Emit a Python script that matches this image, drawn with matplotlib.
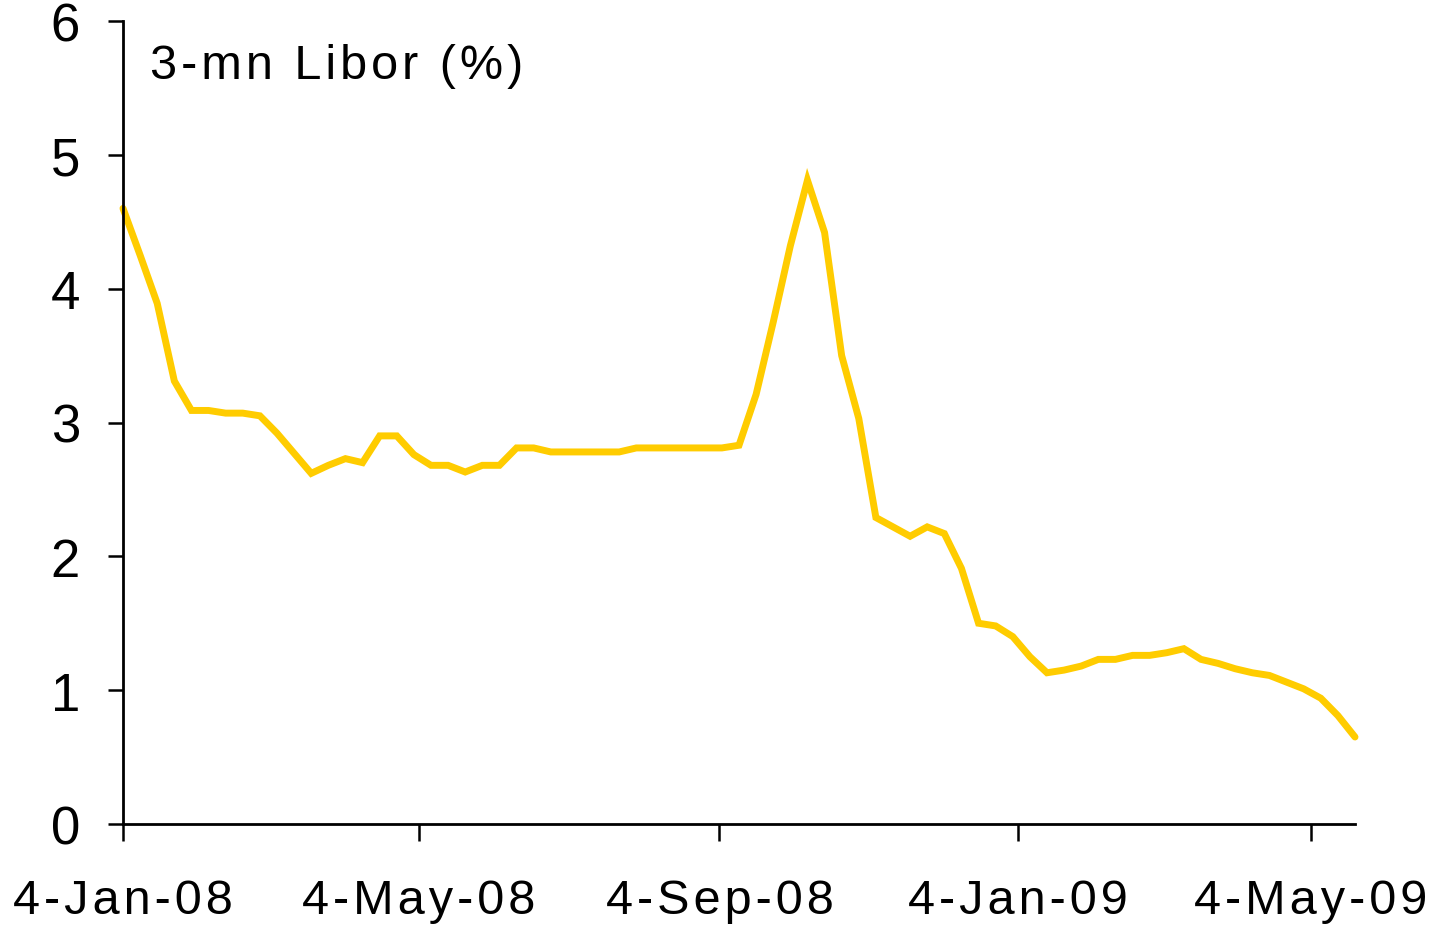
import matplotlib
matplotlib.use("Agg")
import matplotlib.pyplot as plt
import pandas as pd

# ---- data (weekly 3-month Libor, %) ----
start_date = "2008-01-04"
libor = [4.60, 4.25, 3.89, 3.31, 3.09, 3.09, 3.07, 3.07, 3.05, 2.92,
         2.77, 2.62, 2.68, 2.73, 2.70, 2.90, 2.90, 2.76, 2.68, 2.68,
         2.63, 2.68, 2.68, 2.81, 2.81, 2.78, 2.78, 2.78, 2.78, 2.78,
         2.81, 2.81, 2.81, 2.81, 2.81, 2.81, 2.83, 3.21, 3.75, 4.32,
         4.81, 4.42, 3.50, 3.03, 2.29, 2.22, 2.15, 2.22, 2.17, 1.91,
         1.50, 1.48, 1.40, 1.25, 1.13, 1.15, 1.18, 1.23, 1.23, 1.26,
         1.26, 1.28, 1.31, 1.23, 1.20, 1.16, 1.13, 1.11, 1.06, 1.01,
         0.94, 0.81, 0.65]
dates = pd.date_range(start_date, periods=len(libor), freq="7D")

xtick_dates = ["2008-01-04", "2008-05-04", "2008-09-04", "2009-01-04", "2009-05-04"]
xtick_labels = ["4-Jan-08", "4-May-08", "4-Sep-08", "4-Jan-09", "4-May-09"]
ytick_vals = [0, 1, 2, 3, 4, 5, 6]
title = "3-mn Libor (%)"

HS = "\u200a"  # hair space used to mimic the wide letter spacing


def spaced(s):
    return HS.join(list(s))


fam = ["Liberation Sans", "DejaVu Sans"]
plt.rcParams["font.family"] = fam

W, H = 1437, 928
fig = plt.figure(figsize=(W / 100, H / 100), dpi=100)
ax = fig.add_axes([123 / W, (H - 825) / H, (1355 - 123) / W, (825 - 22) / H])

ax.plot(dates, libor, color="#FFCC00", lw=5.0, solid_joinstyle="miter",
        solid_capstyle="round", clip_on=False, zorder=3)

ax.set_xlim(dates[0], dates[-1])
ax.set_ylim(0, 6)

ax.set_xticks([pd.Timestamp(d) for d in xtick_dates])
ax.set_xticklabels([spaced(l) for l in xtick_labels], fontsize=35)
ax.set_yticks(ytick_vals)
ax.set_yticklabels([str(v) for v in ytick_vals], fontsize=38)

for s in ["top", "right"]:
    ax.spines[s].set_visible(False)
for s in ["left", "bottom"]:
    ax.spines[s].set_linewidth(2.0)
    ax.spines[s].set_color("black")
    ax.spines[s].set_zorder(4)

ax.tick_params(axis="x", direction="out", length=12, width=1.8, pad=27)
ax.tick_params(axis="y", direction="out", length=11, width=1.8, pad=20)
for lab in ax.get_yticklabels():
    lab.set_va("center_baseline")

fig.text(150 / W, (H - 79) / H, spaced(title), fontsize=35,
         ha="left", va="baseline", family=fam)

fig.savefig("out.png", dpi=100)
